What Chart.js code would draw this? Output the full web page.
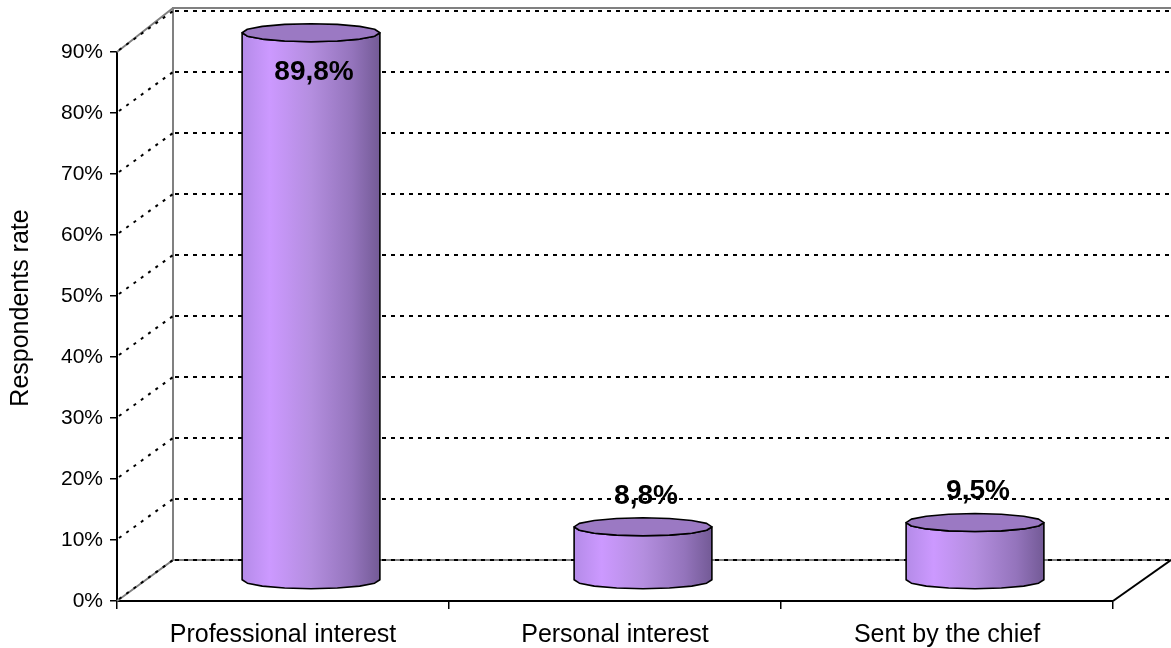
<!DOCTYPE html>
<html>
<head>
<meta charset="utf-8">
<script src="https://cdn.jsdelivr.net/npm/chart.js@4"></script>
<style>
  html, body { margin: 0; padding: 0; background: #fff; }
  #wrap { width: 1171px; height: 648px; }
</style>
</head>
<body>
<div id="wrap"><canvas id="reasonChart"></canvas></div>
<script>
const categories = ["Professional interest", "Personal interest", "Sent by the chief"];
const shares = [89.8, 8.8, 9.5];
const yTicks = [0, 10, 20, 30, 40, 50, 60, 70, 80, 90];

// depth of the 3D box (back wall offset from the front axis)
const DX = 56, DY = -41;

function facetPoints(cx, cy, rx, ry, from, to, n) {
  const pts = [];
  for (let i = 0; i <= n; i++) {
    const a = from + (to - from) * i / n;
    pts.push([cx + rx * Math.cos(a), cy + ry * Math.sin(a)]);
  }
  return pts;
}

const depthPlugin = {
  id: "depth",
  beforeDatasetsDraw(chart) {
    const { ctx, chartArea: a, scales: { y } } = chart;
    const y0 = y.getPixelForValue(0);
    const yTop = y.getPixelForValue(90);
    ctx.save();

    // walls frame
    ctx.strokeStyle = "#808080";
    ctx.lineWidth = 2;
    ctx.setLineDash([]);
    ctx.beginPath();
    ctx.moveTo(a.left, y0);
    ctx.lineTo(a.left + DX, y0 + DY);
    ctx.lineTo(a.left + DX, yTop + DY - 3);
    ctx.lineTo(chart.width, yTop + DY - 3);
    ctx.moveTo(a.left, yTop);
    ctx.lineTo(a.left + DX, yTop + DY - 3);
    ctx.moveTo(a.left + DX, y0 + DY);
    ctx.lineTo(chart.width, y0 + DY);
    ctx.stroke();

    // floor right edge
    ctx.strokeStyle = "#000";
    ctx.beginPath();
    ctx.moveTo(a.right, y0);
    ctx.lineTo(a.right + DX + 2, y0 + DY);
    ctx.stroke();

    // dotted grid on back wall and side wall
    ctx.strokeStyle = "#000";
    ctx.lineWidth = 2;
    yTicks.forEach(v => {
      const py = y.getPixelForValue(v);
      ctx.setLineDash([3, 6]);
      ctx.beginPath();
      ctx.moveTo(a.left + 2, py - 2);
      ctx.lineTo(a.left + DX, py + DY);
      ctx.stroke();
      ctx.setLineDash([4, 5]);
      ctx.beginPath();
      ctx.moveTo(a.left + DX + 2, py + DY);
      ctx.lineTo(chart.width, py + DY);
      ctx.stroke();
    });
    ctx.restore();
  },
  afterDatasetsDraw(chart) {
    const { ctx } = chart;
    const meta = chart.getDatasetMeta(0);
    const ry = 9;
    const mx = DX / 2, my = DY / 2;
    ctx.save();
    meta.data.forEach((bar, i) => {
      const cx = bar.x + mx;
      const rx = bar.width / 2;
      const top = bar.y + my;
      const bottom = bar.base + my;

      const grad = ctx.createLinearGradient(cx - rx, 0, cx + rx, 0);
      grad.addColorStop(0, "#b48be8");
      grad.addColorStop(0.2, "#cc99ff");
      grad.addColorStop(0.5, "#b48edf");
      grad.addColorStop(0.8, "#9474bc");
      grad.addColorStop(1, "#735a96");

      // side
      ctx.beginPath();
      ctx.moveTo(cx - rx, top);
      ctx.lineTo(cx - rx, bottom);
      facetPoints(cx, bottom, rx, ry, Math.PI, 0, 8).forEach(p => ctx.lineTo(p[0], p[1]));
      ctx.lineTo(cx + rx, top);
      facetPoints(cx, top, rx, ry, 0, Math.PI, 8).forEach(p => ctx.lineTo(p[0], p[1]));
      ctx.closePath();
      ctx.fillStyle = grad;
      ctx.fill();
      ctx.strokeStyle = "#000";
      ctx.lineWidth = 1.6;
      ctx.lineJoin = "round";
      ctx.stroke();

      // top
      ctx.beginPath();
      facetPoints(cx, top, rx, ry, 0, Math.PI * 2, 16).forEach((p, k) => k ? ctx.lineTo(p[0], p[1]) : ctx.moveTo(p[0], p[1]));
      ctx.closePath();
      ctx.fillStyle = "#9b79c3";
      ctx.fill();
      ctx.stroke();

      // value label
      const label = shares[i].toFixed(1).replace(".", ",") + "%";
      ctx.font = "bold 28px 'Liberation Sans', Arial, sans-serif";
      ctx.fillStyle = "#000";
      ctx.textAlign = "center";
      ctx.textBaseline = "middle";
      ctx.fillText(label, cx + 3, Math.max(72, top - 31));
    });
    ctx.restore();
  },
  afterDraw(chart) {
    const { ctx } = chart;
    ctx.save();
    ctx.translate(21, 308);
    ctx.rotate(-Math.PI / 2);
    ctx.font = "25px 'Liberation Sans', Arial, sans-serif";
    ctx.fillStyle = "#000";
    ctx.textAlign = "center";
    ctx.textBaseline = "middle";
    ctx.fillText("Respondents rate", 0, 0);
    ctx.restore();
  }
};

new Chart(document.getElementById("reasonChart"), {
  type: "bar",
  data: {
    labels: categories,
    datasets: [{
      data: shares,
      backgroundColor: "rgba(0,0,0,0)",
      borderWidth: 0,
      barPercentage: 0.415,
      categoryPercentage: 1
    }]
  },
  options: {
    responsive: true,
    maintainAspectRatio: false,
    animation: false,
    layout: { padding: { top: 52, right: 58, left: 0, bottom: 0 } },
    plugins: {
      legend: { display: false },
      tooltip: { enabled: false }
    },
    scales: {
      x: {
        afterFit: s => { s.height = 47; },
        grid: { drawOnChartArea: false, tickLength: 8, color: "#000", lineWidth: 1.5 },
        border: { color: "#000", width: 2 },
        ticks: {
          color: "#000",
          padding: 11,
          font: { family: "'Liberation Sans', Arial, sans-serif", size: 25 }
        }
      },
      y: {
        min: 0,
        max: 90,
        afterFit: s => { s.width = 117; },
        afterBuildTicks: s => { s.ticks = yTicks.map(v => ({ value: v })); },
        grid: { drawOnChartArea: false, tickLength: 7, color: "#000", lineWidth: 1.5 },
        border: { color: "#000", width: 2 },
        ticks: {
          color: "#000",
          padding: 7,
          callback: v => v + "%",
          font: { family: "'Liberation Sans', Arial, sans-serif", size: 21 }
        }
      }
    }
  },
  plugins: [depthPlugin]
});
</script>
</body>
</html>
